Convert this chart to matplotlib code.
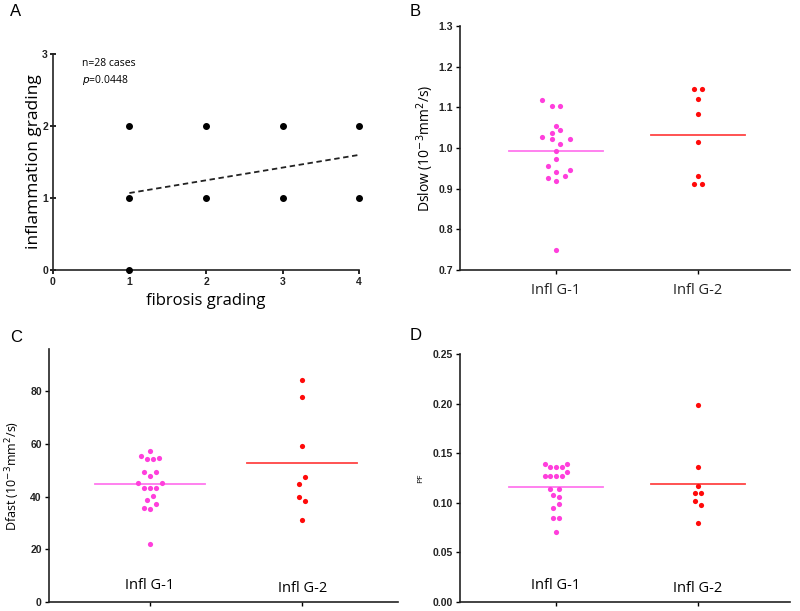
import matplotlib
matplotlib.use("Agg")
import matplotlib.pyplot as plt
import matplotlib.transforms as mtransforms
import numpy as np

# ---------------- data ----------------
# Panel A
fib_x = [1, 1, 1, 2, 2, 3, 3, 4, 4]
infl_y = [0, 1, 2, 1, 2, 1, 2, 1, 2]
fit_x = [1, 4]
fit_y = [1.07, 1.60]
a_note1 = "n=28 cases"
a_note2 = "=0.0448"

groups = ["Infl G-1", "Infl G-2"]

# Panel B (Dslow)
dslow_g1 = [1.119, 1.104, 1.104, 1.055, 1.044, 1.037, 1.028, 1.021, 1.023, 1.011,
            0.993, 0.973, 0.955, 0.946, 0.941, 0.931, 0.926, 0.918, 0.749]
dslow_g1_off = [-0.10, -0.03, 0.03, 0.0, 0.03, -0.03, -0.10, -0.03, 0.10, 0.03,
                0.0, 0.0, -0.06, 0.10, 0.0, 0.06, -0.06, 0.0, 0.0]
dslow_g2 = [1.146, 1.146, 1.120, 1.084, 1.014, 0.931, 0.911, 0.911]
dslow_g2_off = [-0.03, 0.03, 0.0, 0.0, 0.0, 0.0, -0.03, 0.03]

# Panel C (Dfast)
dfast_g1 = [57.2, 55.4, 54.1, 54.1, 54.6, 49.5, 49.2, 47.8, 45.1, 45.3,
            43.3, 43.3, 43.3, 40.3, 38.9, 37.3, 35.6, 35.2, 22.0]
dfast_g1_off = [0.0, -0.06, -0.02, 0.02, 0.06, -0.04, 0.04, 0.0, -0.08, 0.08,
                -0.04, 0.0, 0.04, 0.02, -0.02, 0.04, -0.04, 0.0, 0.0]
dfast_g2 = [84.3, 77.7, 59.1, 47.5, 44.9, 39.7, 38.4, 31.3]
dfast_g2_off = [0.0, 0.0, 0.0, 0.02, -0.02, -0.02, 0.02, 0.0]

# Panel D (PF)
pf_g1 = [0.1386, 0.1386, 0.1359, 0.1359, 0.1359, 0.1315, 0.1265, 0.1265, 0.1265, 0.1265,
         0.1138, 0.1138, 0.1074, 0.1060, 0.0983, 0.0946, 0.0849, 0.0842, 0.0705]
pf_g1_off = [-0.08, 0.08, -0.04, 0.0, 0.04, 0.08, -0.08, -0.04, 0.0, 0.04,
             -0.04, 0.02, -0.02, 0.02, 0.02, -0.02, -0.02, 0.02, 0.0]
pf_g2 = [0.1987, 0.1356, 0.1171, 0.1101, 0.1101, 0.1023, 0.0973, 0.0792]
pf_g2_off = [0.0, 0.0, 0.0, -0.02, 0.02, -0.02, 0.02, 0.0]

C1 = "#ff3fdc"
C2 = "#ff0a0a"
L1 = "#ff77ee"
L2 = "#ff4444"

TICKFONT = dict(family="Liberation Sans", weight="bold", size=7.5)
LABFONT = "Open Sans"

fig = plt.figure(figsize=(8.0, 6.11), dpi=100)


def style_axes(ax):
    for s in ["top", "right"]:
        ax.spines[s].set_visible(False)
    for s in ["left", "bottom"]:
        ax.spines[s].set_linewidth(1.2)
        ax.spines[s].set_color("#222222")
    for lab in ax.get_xticklabels() + ax.get_yticklabels():
        lab.set_fontfamily(TICKFONT["family"])
        lab.set_fontweight(TICKFONT["weight"])
        lab.set_fontsize(TICKFONT["size"])
        lab.set_color("#222222")


# ---------------- Panel A ----------------
axA = fig.add_axes([0.066, 0.558, 0.383, 0.3535])
axA.scatter(fib_x, infl_y, s=16, color="black", zorder=3, clip_on=False)
axA.plot(fit_x, fit_y, ls=(0, (3, 2)), color="#222222", lw=1.3)
axA.set_xlim(0, 4)
axA.set_ylim(0, 3)
axA.set_xticks([0, 1, 2, 3, 4])
axA.set_yticks([0, 1, 2, 3])
axA.tick_params(axis="x", direction="out", length=3, width=1.2, pad=2)
axA.tick_params(axis="y", direction="inout", length=5, width=1.2, pad=1)
style_axes(axA)
axA.set_xlabel("fibrosis grading", fontsize=12, family=LABFONT, labelpad=4)
axA.set_ylabel("inflammation grading", fontsize=12.5, family=LABFONT, labelpad=0)
axA.text(0.095, 0.955, a_note1, transform=axA.transAxes, fontsize=7.5,
         family=LABFONT, va="center")
axA.text(0.095, 0.88, r"$\it{p}$" + a_note2, transform=axA.transAxes, fontsize=7.5,
         family=LABFONT, va="center")


def dot_panel(rect, g1, g1o, g2, g2o, ylim, yticks, yfmt, ylabel, ylabsize,
              xlim, inside_labels, half, labelpad):
    ax = fig.add_axes(rect)
    pos = [1, 2]
    ax.scatter(np.array(g1o) + pos[0], g1, s=14, color=C1, zorder=3, linewidths=0)
    ax.scatter(np.array(g2o) + pos[1], g2, s=14, color=C2, zorder=3, linewidths=0)
    ax.plot([pos[0] - half, pos[0] + half], [np.mean(g1)] * 2, color=L1, lw=1.3, zorder=2)
    ax.plot([pos[1] - half, pos[1] + half], [np.mean(g2)] * 2, color=L2, lw=1.3, zorder=2)
    ax.set_xlim(*xlim)
    ax.set_ylim(*ylim)
    ax.set_yticks(yticks)
    ax.set_yticklabels([yfmt.format(v) for v in yticks])
    ax.set_xticks(pos)
    if inside_labels:
        ax.set_xticklabels(["", ""])
        tr = mtransforms.blended_transform_factory(ax.transData, ax.transAxes)
        ax.text(pos[0], 0.065, groups[0], transform=tr, ha="center", va="center",
                fontsize=10.5, family=LABFONT)
        ax.text(pos[1], 0.055, groups[1], transform=tr, ha="center", va="center",
                fontsize=10.5, family=LABFONT)
    else:
        ax.set_xticklabels(groups)
    ax.tick_params(axis="x", direction="out", length=3, width=1.0, pad=6)
    ax.tick_params(axis="y", direction="out", length=3, width=1.0, pad=2)
    style_axes(ax)
    if not inside_labels:
        for lab in ax.get_xticklabels():
            lab.set_fontfamily(LABFONT)
            lab.set_fontweight("normal")
            lab.set_fontsize(10.5)
    ax.set_ylabel(ylabel, fontsize=ylabsize, family=LABFONT, labelpad=labelpad)
    return ax


# ---------------- Panel B ----------------
axB = dot_panel([0.575, 0.558, 0.4125, 0.3995], dslow_g1, dslow_g1_off, dslow_g2,
                dslow_g2_off, (0.7, 1.3), [0.7, 0.8, 0.9, 1.0, 1.1, 1.2, 1.3], "{:.1f}",
                r"Dslow (10$^{-3}$mm$^{2}$/s)", 10, (0.323, 2.649), False, 0.33, 2)

# ---------------- Panel C ----------------
axC = dot_panel([0.061, 0.0147, 0.437, 0.414], dfast_g1, dfast_g1_off, dfast_g2,
                dfast_g2_off, (0, 96), [0, 20, 40, 60, 80], "{:.0f}",
                r"Dfast (10$^{-3}$mm$^{2}$/s)", 9, (0.337, 2.631), True, 0.36, 6)

# ---------------- Panel D ----------------
axD = dot_panel([0.575, 0.0147, 0.4125, 0.406], pf_g1, pf_g1_off, pf_g2,
                pf_g2_off, (0, 0.25), [0, 0.05, 0.10, 0.15, 0.20, 0.25], "{:.2f}",
                "PF", 6, (0.323, 2.649), True, 0.33, 6)

# panel letters
for x, y, s in [(10, 12, "A"), (410, 12, "B"), (10, 337, "C"), (410, 335, "D")]:
    fig.text(x / 800, 1 - y / 611, s, fontsize=12, family="Liberation Sans",
             ha="left", va="center")

fig.savefig("out.png", dpi=100)
